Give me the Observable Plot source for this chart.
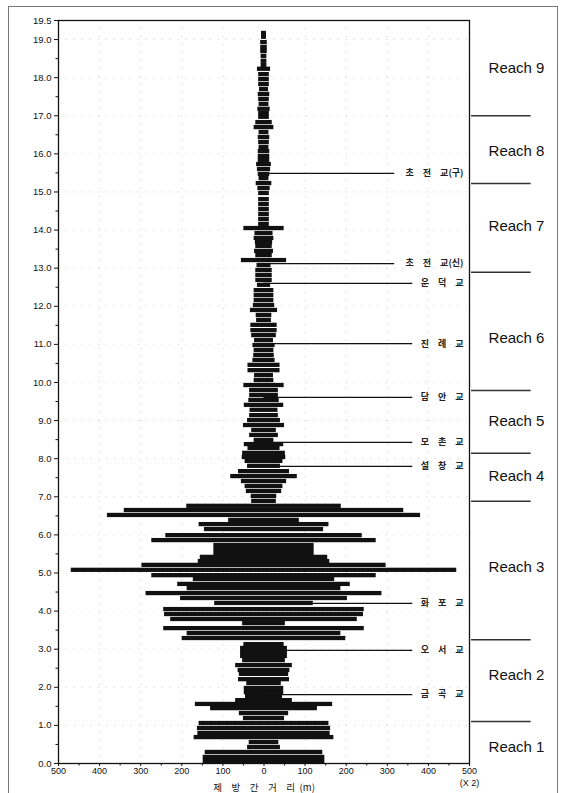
<!DOCTYPE html>
<html><head><meta charset="utf-8">
<script src="https://cdn.jsdelivr.net/npm/d3@7"></script>
<script src="https://cdn.jsdelivr.net/npm/@observablehq/plot@0.6"></script>
<style>
html,body{margin:0;padding:0;background:#fff;}
#wrap{position:relative;width:562px;height:793px;overflow:hidden;}
#border{position:absolute;left:8px;top:6px;width:548px;height:820px;border:1px solid #777;pointer-events:none;}
</style></head><body><div id="wrap"><div id="border"></div></div>
<script>
// Section positions (km) and half levee-to-levee distance (axis units, real width = x2)
const sectionKm = [0.05,0.16,0.29,0.42,0.55,0.68,0.79,0.92,1.05,1.18,1.31,1.44,1.55,1.65,1.76,1.86,1.97,2.10,2.20,2.34,2.44,2.57,2.70,2.81,2.91,3.02,3.12,3.28,3.41,3.54,3.67,3.78,3.91,4.04,4.20,4.33,4.46,4.59,4.70,4.83,4.93,5.07,5.20,5.30,5.41,5.51,5.62,5.72,5.85,5.98,6.14,6.27,6.38,6.51,6.64,6.75,6.88,7.01,7.14,7.27,7.40,7.53,7.66,7.80,7.93,8.03,8.14,8.27,8.37,8.48,8.61,8.74,8.87,9.00,9.13,9.27,9.40,9.53,9.66,9.79,9.92,10.05,10.18,10.31,10.45,10.58,10.71,10.84,10.97,11.10,11.23,11.36,11.50,11.63,11.76,11.89,12.02,12.15,12.28,12.41,12.55,12.68,12.81,12.94,13.07,13.20,13.33,13.44,13.57,13.67,13.78,13.91,14.04,14.15,14.28,14.41,14.54,14.67,14.80,14.96,15.09,15.22,15.35,15.46,15.59,15.72,15.83,15.93,16.06,16.17,16.30,16.43,16.56,16.69,16.82,16.96,17.06,17.17,17.30,17.43,17.56,17.69,17.82,17.95,18.08,18.22,18.32,18.43,18.56,18.69,18.79,18.92,19.06,19.16];
const halfWidth = [148,148,143,40,36,170,161,162,158,50,60,130,167,69,45,48,48,42,62,60,63,69,52,57,57,57,49,199,187,244,52,227,242,244,120,203,287,187,210,172,273,469,297,160,155,122,122,122,273,239,145,158,86,381,340,188,30,31,43,46,55,81,62,40,46,53,52,39,48,24,35,30,50,40,35,34,48,37,35,35,49,24,23,39,39,27,25,24,27,23,30,32,32,18,19,33,26,24,24,24,16,20,20,20,17,55,20,23,20,21,24,22,49,13,13,13,13,13,13,13,15,19,12,14,16,18,14,14,14,12,13,14,12,24,20,13,13,15,12,13,14,11,13,13,13,16,7,7,7,8,8,8,6,6];

const bridgeNames = ["초\u2003전\u2003교(구)","초\u2003전\u2003교(신)","운\u2003덕\u2003교","진\u2003례\u2003교","담\u2003안\u2003교","모\u2003촌\u2003교","설\u2003창\u2003교","화\u2003포\u2003교","오\u2003서\u2003교","금\u2003곡\u2003교"];
const bridgeKm = [15.49,13.12,12.60,11.02,9.61,8.43,7.80,4.20,2.97,1.81];

const reachNames = ["Reach 9","Reach 8","Reach 7","Reach 6","Reach 5","Reach 4","Reach 3","Reach 2","Reach 1"];
const reachLabelKm = [18.24,16.06,14.09,11.15,8.98,7.53,5.14,2.31,0.42];
const reachBoundKm = [17.0,15.22,12.89,9.79,8.14,6.88,3.25,1.10];

const yTicks = [0,1,2,3,4,5,6,7,8,9,10,11,12,13,14,15,16,17,18,19,19.5];
const yMinor = [0.5,1.5,2.5,3.5,4.5,5.5,6.5,7.5,8.5,9.5,10.5,11.5,12.5,13.5,14.5,15.5,16.5,17.5,18.5];
const xTicks = [-500,-400,-300,-200,-100,0,100,200,300,400,500];
const xMinor = [-450,-350,-250,-150,-50,50,150,250,350,450];
const xGrid = [-400,-300,-200,-100,100,200,300,400];
const yGrid = [1,2,3,4,5,6,7,8,9,10,11,12,13,14,15,16,17,18,19];
const xScaleNote = "(X 2)";
const xTitle = "제\u2003방\u2003간\u2003거\u2003리\u2002(m)";

const sections = sectionKm.map((km, i) => ({km, w: halfWidth[i]}));
const bridges = bridgeNames.map((name, i) => ({name, km: bridgeKm[i], long: name.includes("(")}));
const reaches = reachNames.map((name, i) => ({name, km: reachLabelKm[i]}));

const chart = Plot.plot({
  width: 562, height: 793,
  marginLeft: 58, marginRight: 93, marginTop: 20, marginBottom: 30,
  x: {domain: [-500, 500]},
  y: {domain: [0, 19.5]},
  style: {fontFamily: "'Liberation Sans', Arial, sans-serif", fontSize: "9.5px", color: "#111", background: "white"},
  marks: [
    Plot.gridX({ticks: xGrid, stroke: "#777", strokeOpacity: 0.35, strokeDasharray: "1,7"}),
    Plot.gridY({ticks: yGrid, stroke: "#777", strokeOpacity: 0.35, strokeDasharray: "1,7"}),
    Plot.rectX(sections, {y1: d => d.km - 0.056, y2: d => d.km + 0.056, x1: d => -d.w, x2: d => d.w, fill: "#111"}),
    Plot.ruleY(bridges, {y: "km", x1: 0, x2: d => d.long ? 318 : 362, stroke: "#111", strokeWidth: 1.2}),
    Plot.text(bridges, {y: "km", text: "name", frameAnchor: "right", dx: -6, textAnchor: "end", fontFamily: "'Noto Sans CJK KR', sans-serif", fontSize: 9, fontWeight: "bold", fill: "#222"}),
    Plot.ruleY(reachBoundKm, {y: d => d, x1: 505, x2: 650, stroke: "#333", strokeWidth: 1.5}),
    Plot.text(reaches, {y: "km", text: "name", frameAnchor: "right", dx: 47, textAnchor: "middle", fontSize: 15, fill: "#111"}),
    Plot.frame({stroke: "#111", strokeWidth: 1.3}),
    Plot.axisY({ticks: yTicks, tickFormat: d => d.toFixed(1), tickSize: 4, tickPadding: 3, label: null}),
    Plot.axisY({ticks: yMinor, tickFormat: () => "", tickSize: 2.5, label: null}),
    Plot.axisX({ticks: xTicks, tickFormat: d => Math.abs(d), tickSize: 3, tickPadding: 1, fontSize: 9, label: null}),
    Plot.axisX({ticks: xMinor, tickFormat: () => "", tickSize: 2.5, label: null}),
    Plot.text([xScaleNote], {x: xTicks[xTicks.length - 1], frameAnchor: "bottom", dy: 22, fontSize: 9, fill: "#111"}),
    Plot.text([xTitle], {x: 0, frameAnchor: "bottom", dy: 24, lineAnchor: "middle", fontFamily: "'Noto Sans CJK KR', sans-serif", fontSize: 9.5, fill: "#111"})
  ]
});
document.getElementById("wrap").prepend(chart);
</script>
</body></html>
